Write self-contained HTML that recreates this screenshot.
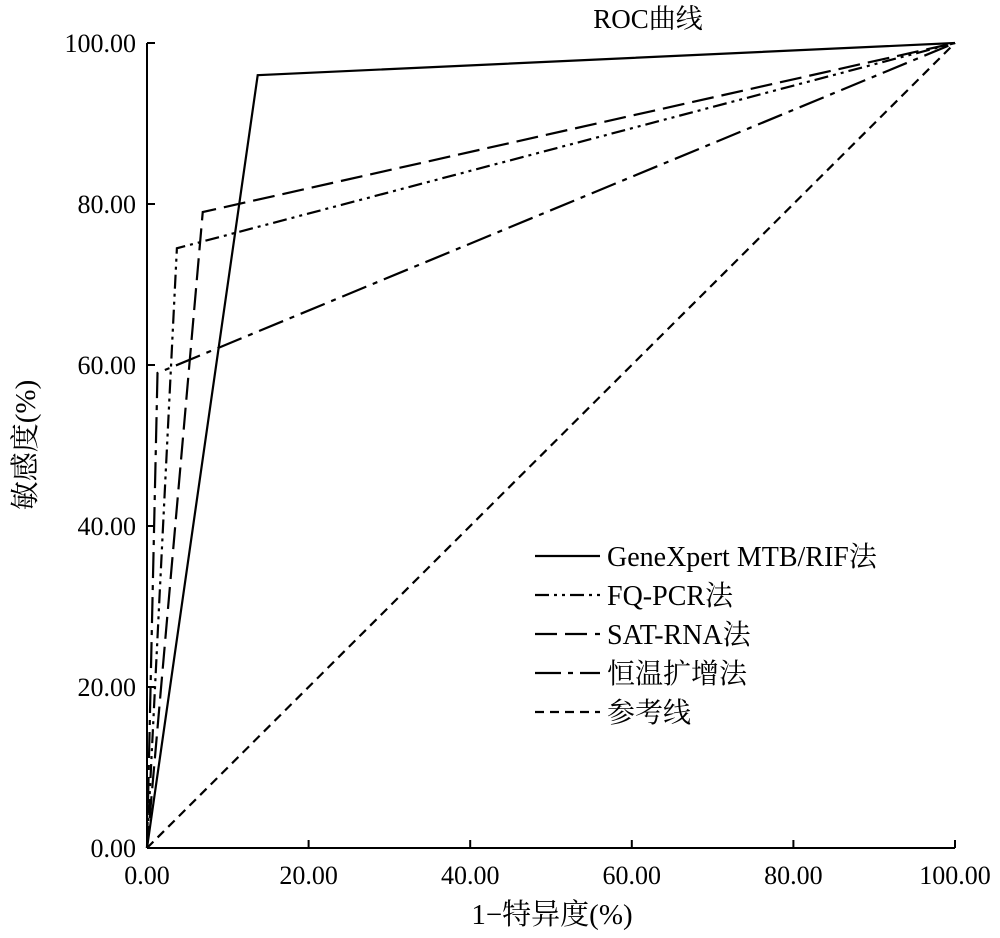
<!DOCTYPE html>
<html><head><meta charset="utf-8"><style>
body{margin:0;background:#fff;}
text{font-family:"Liberation Serif","Noto Serif CJK SC",serif;fill:#000;}
</style></head><body>
<svg id="chart" width="1000" height="933" viewBox="0 0 1000 933" xmlns="http://www.w3.org/2000/svg">
<text x="648" y="28" font-size="27" text-anchor="middle">ROC曲线</text>
<g id="axes"></g>
<g id="series"></g>
<g id="legend"></g>
<text x="552" y="924" font-size="29" text-anchor="middle">1−特异度(%)</text>
<text transform="translate(35,445) rotate(-90)" font-size="29" text-anchor="middle">敏感度(%)</text>
</svg>
<script>
const ticks=[0,20,40,60,80,100];
const tickLabels=["0.00","20.00","40.00","60.00","80.00","100.00"];
const seriesNames=["GeneXpert MTB/RIF法","FQ-PCR法","SAT-RNA法","恒温扩增法","参考线"];
const geneX=[0,13.7,100], geneY=[0,96,100];
const fqX=[0,3.7,100], fqY=[0,74.5,100];
const satX=[0,6.9,100], satY=[0,79,100];
const isoX=[0,1.3,100], isoY=[0,59,100];
const refX=[0,100], refY=[0,100];
const dashes=["","14 5 3 5 3 5","22 8","26 7 5 7","9 6"];
const X0=147,X1=955,Y0=848,Y1=43;
const sx=v=>X0+(X1-X0)*v/100, sy=v=>Y0-(Y0-Y1)*v/100;
const NS="http://www.w3.org/2000/svg";
const ax=document.getElementById('axes');
function mk(t,a,p){const e=document.createElementNS(NS,t);for(const k in a)e.setAttribute(k,a[k]);p.appendChild(e);return e;}
let l=mk('line',{x1:X0,y1:Y0,x2:X1,y2:Y0,stroke:'#000','stroke-width':2},ax);


l=mk('line',{x1:X0,y1:Y0,x2:X0,y2:Y1,stroke:'#000','stroke-width':2},ax);


ticks.forEach((t,i)=>{
 let a=mk('line',{x1:sx(t),y1:Y0,x2:sx(t),y2:Y0-8,stroke:'#000','stroke-width':2},ax);
 
 
 let b=mk('line',{x1:X0,y1:sy(t),x2:X0+8,y2:sy(t),stroke:'#000','stroke-width':2},ax);
 
 
 let tx=mk('text',{x:sx(t),y:Y0+36,'font-size':26,'text-anchor':'middle'},ax);tx.textContent=tickLabels[i];
 
 
 let ty=mk('text',{x:X0-11,y:sy(t)+9,'font-size':26,'text-anchor':'end'},ax);ty.textContent=tickLabels[i];
 
 
});
const data=[[geneX,geneY],[fqX,fqY],[satX,satY],[isoX,isoY],[refX,refY]];
const sg=document.getElementById('series'), lg=document.getElementById('legend');
data.forEach((d,i)=>{
 const pts=d[0].map((x,j)=>sx(x)+','+sy(d[1][j])).join(' ');
 const p=mk('polyline',{points:pts,fill:'none',stroke:'#000','stroke-width':2.2,'stroke-dasharray':dashes[i]},sg);
 
 
 const y=556+i*39;
 const ll=mk('line',{x1:535,y1:y,x2:600,y2:y,stroke:'#000','stroke-width':2.2,'stroke-dasharray':dashes[i]},lg);
 
 
 const t=mk('text',{x:607,y:y+10,'font-size':28},lg);t.textContent=seriesNames[i];
 
 
});
</script>
</body></html>
